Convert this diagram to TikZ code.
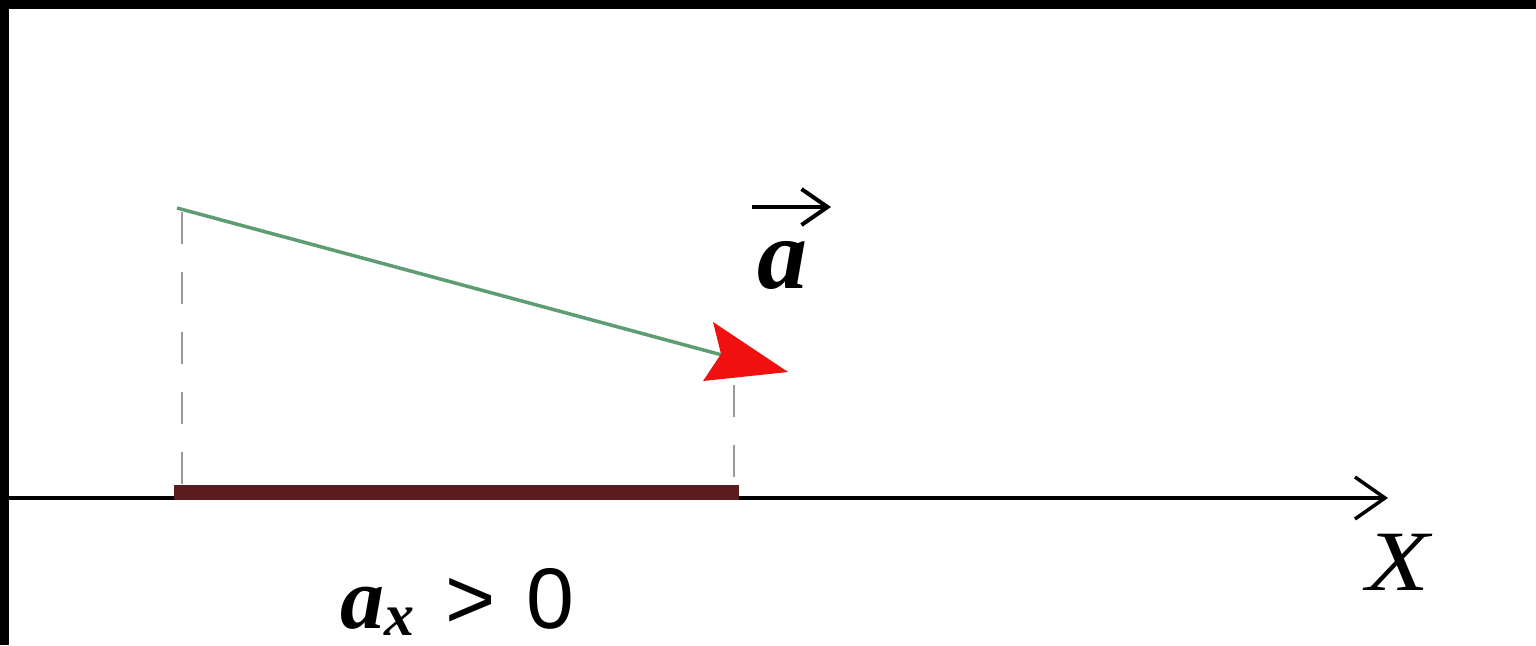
\documentclass[tikz,border=0pt]{standalone}
\usepackage{fontspec}
\setmainfont{Liberation Serif}
\newfontfamily\sansf{Liberation Sans}
\usetikzlibrary{arrows.meta}
\definecolor{vecgreen}{HTML}{5E9C74}
\definecolor{vecred}{HTML}{F01010}
\definecolor{barcol}{HTML}{5A1C1C}
\tikzset{
  axisline/.style={line width=3.5pt, black, -{Straight Barb[length=30pt,width=42pt,line width=3.5pt]}},
  projline/.style={line width=1.5pt, gray!80, dash pattern=on 32pt off 28pt},
  compbar/.style={line width=15pt, barcol},
  vecline/.style={line width=3.5pt, vecgreen},
  lbl/.style={inner sep=0pt, outer sep=0pt, anchor=base west}
}
\begin{document}
\begin{tikzpicture}[x=1pt,y=-1pt]
\useasboundingbox (0,0) rectangle (1536,645);
\fill[black] (0,0) rectangle (1536,645);
\fill[white] (9,9) rectangle (1536,645);
% coordinates
\coordinate (axL) at (9,498);
\coordinate (axR) at (1388,498);
\coordinate (barL) at (174,492.5);
\coordinate (barR) at (739,492.5);
\coordinate (start) at (177,208);
\coordinate (end) at (722,355);
\coordinate (d1t) at (182,212);
\coordinate (d1b) at (182,486);
\coordinate (d2t) at (734,385);
\coordinate (d2b) at (734,486);
% projections
\draw[projline] (d1t) -- (d1b);
\draw[projline] (d2t) -- (d2b);
% axis
\draw[axisline] (axL) -- (axR);
% component bar
\draw[compbar] (barL) -- (barR);
% vector
\draw[vecline] (start) -- (end);
\fill[vecred] (713,322) -- (788,372) -- (703,381) -- (721,354) -- cycle;
% labels
\node[lbl] (avec) at (757,288) {\fontsize{100}{110}\selectfont\bfseries\itshape a};
\coordinate (arL) at (752,207);
\coordinate (arR) at (831,207);
\draw[line width=4pt, -{Straight Barb[length=26pt,width=36pt,line width=4pt]}] (arL) -- (arR);
\node[lbl] (xlab) at (1366,590) {\scalebox{1.2}[1]{\fontsize{86}{90}\selectfont\itshape X}};
\node[lbl] (axlab) at (340,628) {\fontsize{88}{90}\selectfont\bfseries\itshape a\raisebox{-7pt}{\fontsize{60}{60}\selectfont x}\hspace{31pt}\sansf\mdseries\upshape\fontsize{86}{90}\selectfont >\hspace{31pt}0};
\end{tikzpicture}
\end{document}
